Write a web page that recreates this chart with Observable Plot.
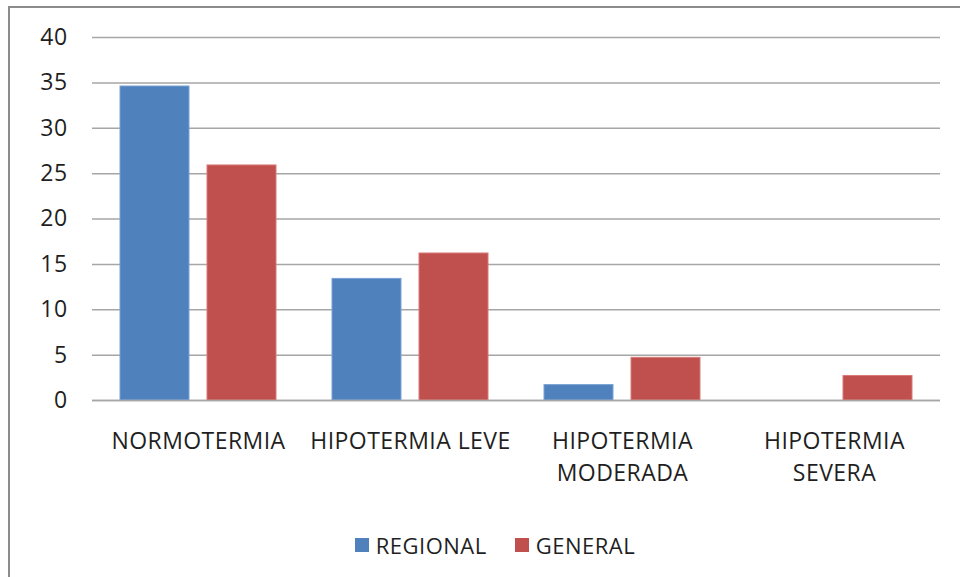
<!DOCTYPE html>
<html>
<head>
<meta charset="utf-8">
<script src="https://cdn.jsdelivr.net/npm/d3@7"></script>
<script src="https://cdn.jsdelivr.net/npm/@observablehq/plot@0.6"></script>
<style>
  html, body { margin: 0; padding: 0; background: #fff; overflow: hidden; }
  body { width: 960px; height: 577px; position: relative; font-family: "Open Sans", sans-serif; }
  #frame {
    position: absolute; left: 8px; top: 6px; width: 1000px; height: 700px;
    border-top: 2px solid #8c8c8c; border-left: 2px solid #8c8c8c;
  }
  #chart { position: absolute; left: 0; top: 0; }
  #chart svg text { letter-spacing: 0.45px; }
  #legend {
    position: absolute; left: 0; top: 530px; width: 990px;
    display: flex; justify-content: center; gap: 28px;
    font-size: 22px; color: #1f1f1f; letter-spacing: 0.5px;
  }
  #legend .item { display: flex; align-items: center; gap: 7px; }
  #legend .sw { width: 14px; height: 14px; display: inline-block; }
</style>
</head>
<body>
<div id="frame"></div>
<div id="chart"></div>
<div id="legend"></div>
<script>
// Temperature outcome by anaesthesia type
const categories = ["NORMOTERMIA", "HIPOTERMIA LEVE", "HIPOTERMIA MODERADA", "HIPOTERMIA SEVERA"];
const categoryLabels = ["NORMOTERMIA", "HIPOTERMIA LEVE", "HIPOTERMIA\nMODERADA", "HIPOTERMIA\nSEVERA"];
const series = ["REGIONAL", "GENERAL"];
const regional = [34.6, 13.4, 1.7, 0];
const general = [25.9, 16.2, 4.7, 2.7];
const colors = ["#4f81bd", "#c0504d"];
const yTicks = [0, 5, 10, 15, 20, 25, 30, 35, 40];

const rows = categories.flatMap((c, i) => [
  {category: c, series: series[0], value: regional[i]},
  {category: c, series: series[1], value: general[i]}
]);
const labelOf = new Map(categories.map((c, i) => [c, categoryLabels[i]]));

const chart = Plot.plot({
  width: 960,
  height: 510,
  marginLeft: 90,
  marginRight: 19,
  marginTop: 37,
  marginBottom: 110,
  style: {fontFamily: "Open Sans, sans-serif", fontSize: "23px", color: "#1f1f1f", background: "transparent"},
  fx: {domain: categories, padding: 0, label: null},
  x: {domain: series, paddingInner: 0.2045, paddingOuter: 0.311, axis: null},
  y: {domain: [0, 40], label: null},
  color: {domain: series, range: colors},
  marks: [
    Plot.gridY(yTicks, {stroke: "#a6a6a6", strokeOpacity: 1, strokeWidth: 1.5}),
    Plot.axisY(yTicks, {tickSize: 0, tickPadding: 25, label: null, fontSize: 23}),
    Plot.axisFx({anchor: "bottom", tickSize: 0, tickPadding: 26, label: null, lineHeight: 1.39,
      tickFormat: (d) => labelOf.get(d), fontSize: 23}),
    Plot.barY(rows, {fx: "category", x: "series", y: "value", fill: "series",
      stroke: d => d.series === "REGIONAL" ? "#7aa2d6" : "#d97a77", strokeWidth: 1}),
    Plot.ruleY([0], {stroke: "#a6a6a6", strokeWidth: 1.5})
  ]
});
document.getElementById("chart").appendChild(chart);

const legend = document.getElementById("legend");
series.forEach((s, i) => {
  const item = document.createElement("span");
  item.className = "item";
  const sw = document.createElement("span");
  sw.className = "sw";
  sw.style.background = colors[i];
  item.appendChild(sw);
  item.appendChild(document.createTextNode(s));
  legend.appendChild(item);
});
</script>
</body>
</html>
